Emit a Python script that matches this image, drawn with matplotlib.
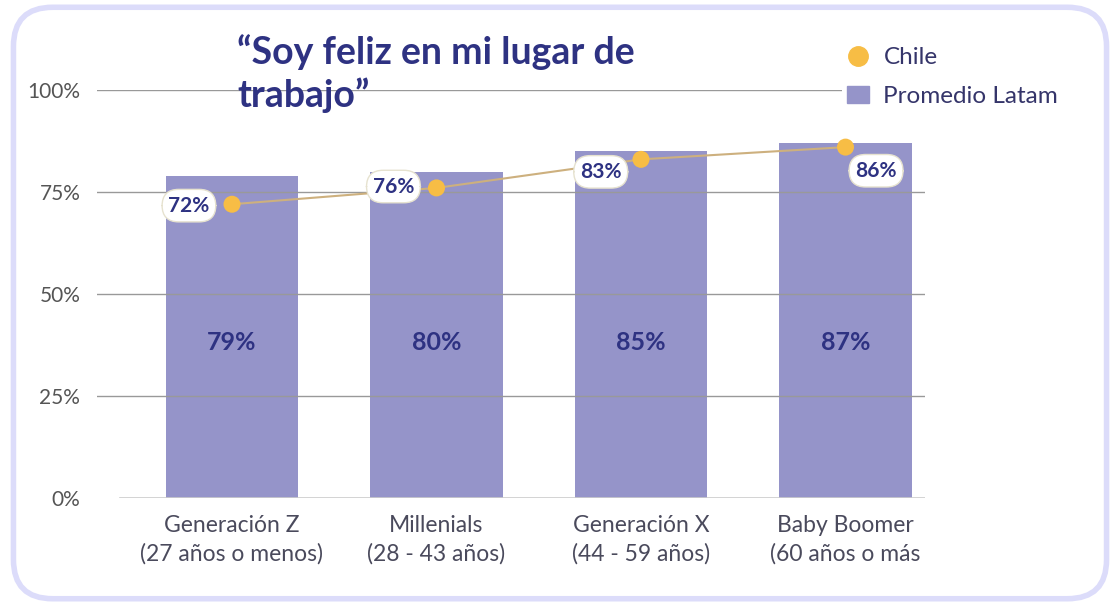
import numpy as np
import matplotlib.pyplot as plt
from matplotlib.patches import FancyBboxPatch
from matplotlib.lines import Line2D
from matplotlib.patches import Patch

plt.rcParams['font.family'] = ['Lato', 'DejaVu Sans']

categorias = ["Generación Z\n(27 años o menos)", "Millenials\n(28 - 43 años)",
              "Generación X\n(44 - 59 años)", "Baby Boomer\n(60 años o más"]
latam = [79, 80, 85, 87]
chile = [72, 76, 83, 86]
ticks = [0, 25, 50, 75, 100]
tick_labels = ["0%", "25%", "50%", "75%", "100%"]

navy = "#2e3282"
bar_color = "#9594c9"

fig = plt.figure(figsize=(11.2, 6.06), dpi=100)
# marco redondeado
borde = FancyBboxPatch((0.012, 0.012), 0.976, 0.976, boxstyle="round,pad=0,rounding_size=0.035",
                       transform=fig.transFigure, facecolor="none", edgecolor="#dcdcfa",
                       linewidth=4, mutation_aspect=1120/606, zorder=-1)
fig.patches.append(borde)

ax = fig.add_axes([97/1120, 1 - 498/606, (925-97)/1120, 408/606])
ax.set_facecolor("none")
x = np.arange(len(categorias))
ax.bar(x, latam, width=0.65, color=bar_color, zorder=1)
for i, v in enumerate(latam):
    ax.text(i, 38, f"{v}%", ha="center", va="center", fontsize=18, fontweight="bold", color=navy, zorder=5)

for t in ticks[1:]:
    ax.axhline(t, color="#999999", lw=1, zorder=2)
ax.axhline(0, xmin=(120-97)/(925-97), color="#cccccc", lw=1.2, zorder=2)

ax.plot(x, chile, color="#cdb07e", lw=1.5, zorder=3)
ax.scatter(x, chile, s=150, color="#f7bd45", zorder=4, edgecolor="none")
offsets = [(-31, -1), (-31, 1), (-29, -9), (22, -17)]
for i, v in enumerate(chile):
    ax.annotate(f"{v}%", (i, v), xytext=offsets[i], textcoords="offset points",
                ha="center", va="center", fontsize=15, fontweight="bold", color=navy, zorder=6,
                bbox=dict(boxstyle="round,pad=0.3,rounding_size=0.8", fc="white", ec="#e6e2cf", lw=1))

ax.set_xlim((97-232)/204.5, (925-232)/204.5)
ax.set_ylim(0, 100)
ax.set_yticks(ticks)
ax.set_yticklabels(tick_labels, fontsize=15, color="#555555")
ax.set_xticks(x)
ax.set_xticklabels(categorias, fontsize=16.5, color="#4a4a5c", linespacing=1.4)
ax.tick_params(length=0, pad=12)
ax.tick_params(axis="y", pad=12)
for s in ax.spines.values():
    s.set_visible(False)

fig.text(237/1120, 1 - 74/606, "“Soy feliz en mi lugar de\ntrabajo”", fontsize=27, fontweight="bold",
         color=navy, va="center", ha="left", linespacing=1.25, zorder=7)

handles = [Line2D([], [], marker="o", ls="none", color="#f7bd45", markersize=14),
           Patch(color=bar_color)]
leg = fig.legend(handles, ["Chile", "Promedio Latam"], loc="upper left",
                 bbox_to_anchor=(830/1120, 1 - 30/606), frameon=True, fontsize=17.5,
                 labelcolor="#35356a", handlelength=0.9, handletextpad=0.6, labelspacing=0.75,
                 borderpad=0.2)
leg.get_frame().set_edgecolor("none")
leg.get_frame().set_facecolor("white")
leg.get_frame().set_alpha(1)

fig.savefig("out.png", dpi=100)
